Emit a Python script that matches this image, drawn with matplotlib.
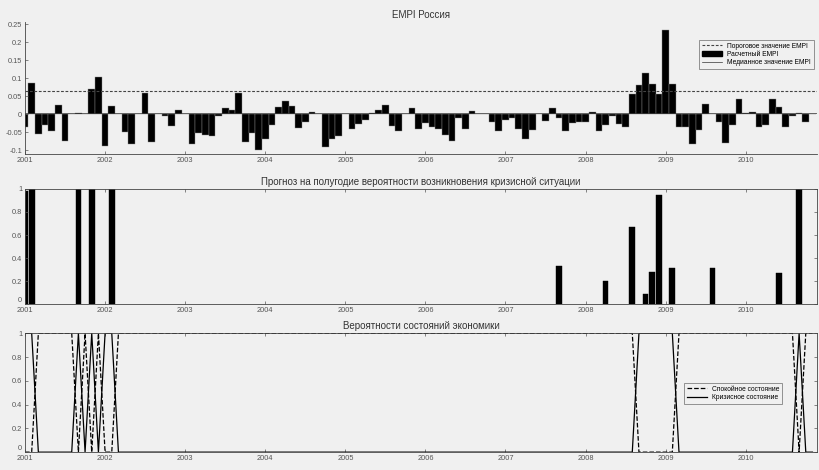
import numpy as np
import matplotlib
matplotlib.use("Agg")
import matplotlib.pyplot as plt
from matplotlib.patches import Patch
from matplotlib.lines import Line2D

plt.rcParams["font.family"] = ["Liberation Sans", "DejaVu Sans"]

BG = "#f0f0f0"
TICK_C = "#555555"

YEARS = ["2001", "2002", "2003", "2004", "2005", "2006", "2007", "2008", "2009", "2010"]

# EMPI, monthly from Jan 2001
empi = [
    -0.036, 0.086, -0.056, -0.031, -0.047, 0.025, -0.075, 0.0, 0.003, 0.0, 0.069, 0.103,
    -0.089, 0.022, 0.0, -0.050, -0.084, 0.0, 0.060, -0.078, 0.0, -0.005, -0.033, 0.013,
    0.0, -0.084, -0.052, -0.058, -0.060, -0.005, 0.016, 0.012, 0.060, -0.076, -0.052, -0.100,
    -0.070, -0.030, 0.021, 0.036, 0.024, -0.038, -0.022, 0.005, 0.0, -0.092, -0.070, -0.060,
    0.0, -0.040, -0.026, -0.017, 0.004, 0.011, 0.025, -0.032, -0.046, 0.0, 0.016, -0.040,
    -0.025, -0.035, -0.040, -0.058, -0.075, -0.010, -0.040, 0.009, 0.0, 0.0, -0.021, -0.047,
    -0.015, -0.010, -0.040, -0.070, -0.045, 0.0, -0.020, 0.016, -0.010, -0.048, -0.025, -0.022,
    -0.022, 0.005, -0.048, -0.030, -0.005, -0.027, -0.035, 0.056, 0.081, 0.115, 0.083, 0.056,
    0.233, 0.083, -0.035, -0.035, -0.083, -0.045, 0.027, 0.0, -0.022, -0.080, -0.030, 0.041,
    0.003, 0.005, -0.035, -0.030, 0.042, 0.020, -0.035, -0.005, 0.002, -0.022, 0.0,
]
empi_threshold = 0.064
empi_median = 0.003

# half-year forecast of crisis probability (nonzero months only)
forecast_months = [0, 1, 8, 10, 13, 80, 87, 91, 93, 94, 95, 97, 103, 113, 116]
forecast_prob = [0.98, 1.0, 1.0, 1.0, 1.0, 0.33, 0.2, 0.67, 0.09, 0.28, 0.95, 0.31, 0.31, 0.27, 1.0]

# months in crisis state
crisis_months = [0, 1, 8, 10, 12, 13, 92, 93, 94, 95, 96, 97, 116]

n = len(empi)
t = np.arange(n)
crisis = np.zeros(n)
crisis[crisis_months] = 1.0
calm = 1.0 - crisis

XMAX = 118.7
year_ticks = np.arange(len(YEARS)) * 12


def style_axes(ax, box=True):
    ax.set_facecolor(BG)
    ax.set_xlim(0, XMAX)
    ax.set_xticks(year_ticks)
    ax.set_xticklabels(YEARS)
    ax.tick_params(direction="in", length=2.5, width=0.5, labelsize=5.3,
                   colors=TICK_C, labelcolor=TICK_C, pad=2,
                   top=box, right=box)
    for s in ax.spines.values():
        s.set_linewidth(0.6)
        s.set_color("#444444")
    if not box:
        ax.spines["top"].set_visible(False)
        ax.spines["right"].set_visible(False)


def prob_yaxis(ax):
    ax.set_ylim(0, 1)
    ax.set_yticks([0, 0.2, 0.4, 0.6, 0.8, 1])
    ax.set_yticklabels(["0", "0.2", "0.4", "0.6", "0.8", "1"])
    ax.get_yticklabels()[0].set_verticalalignment("bottom")


fig = plt.figure(figsize=(8.2, 4.7), dpi=100, facecolor=BG)

# panel 1
ax1 = fig.add_axes([0.0305, 0.672, 0.966, 0.281])
style_axes(ax1, box=False)
ax1.bar(t, empi, width=1.0, color="black", edgecolor="#888888", linewidth=0.3)
ax1.axhline(empi_threshold, color="#444444", lw=0.8, ls=(0, (2.5, 1.5)))
ax1.axhline(empi_median, color="#333333", lw=0.5)
ax1.set_ylim(-0.111, 0.256)
ax1.set_yticks([-0.1, -0.05, 0, 0.05, 0.1, 0.15, 0.2, 0.25])
ax1.set_yticklabels(["-0.1", "-0.05", "0", "0.05", "0.1", "0.15", "0.2", "0.25"])
ax1.set_title("EMPI Россия", fontsize=7, color="#333333", pad=3)
h1 = [Line2D([], [], color="#444444", lw=0.8, ls=(0, (2.5, 1.5))),
      Patch(facecolor="black", edgecolor="black"),
      Line2D([], [], color="#333333", lw=0.5)]
leg1 = ax1.legend(h1, ["Пороговое значение EMPI", "Расчетный EMPI", "Медианное значение EMPI"],
                  loc="upper right", bbox_to_anchor=(1.0, 0.89), fontsize=4.8,
                  frameon=True, fancybox=False, handlelength=3, borderpad=0.4,
                  labelspacing=0.2, facecolor=BG, edgecolor="#666666")
leg1.get_frame().set_linewidth(0.6)

# panel 2
ax2 = fig.add_axes([0.0305, 0.353, 0.966, 0.245])
style_axes(ax2)
ax2.bar(forecast_months, forecast_prob, width=0.85, color="black", edgecolor="black", linewidth=0.3)
prob_yaxis(ax2)
ax2.set_title("Прогноз на полугодие вероятности возникновения кризисной ситуации",
              fontsize=7, color="#333333", pad=3)

# panel 3
ax3 = fig.add_axes([0.0305, 0.038, 0.966, 0.253])
style_axes(ax3)
ax3.plot(t, calm, color="black", lw=0.9, ls="--", label="Спокойное состояние")
ax3.plot(t, crisis, color="black", lw=0.9, label="Кризисное состояние")
prob_yaxis(ax3)
ax3.set_title("Вероятности состояний экономики", fontsize=7, color="#333333", pad=3)
leg3 = ax3.legend(loc="upper right", bbox_to_anchor=(0.96, 0.61), fontsize=4.8,
                  frameon=True, fancybox=False, handlelength=3, borderpad=0.4,
                  labelspacing=0.2, facecolor=BG, edgecolor="#666666")
leg3.get_frame().set_linewidth(0.6)

fig.savefig("out.png", dpi=100, facecolor=BG)
